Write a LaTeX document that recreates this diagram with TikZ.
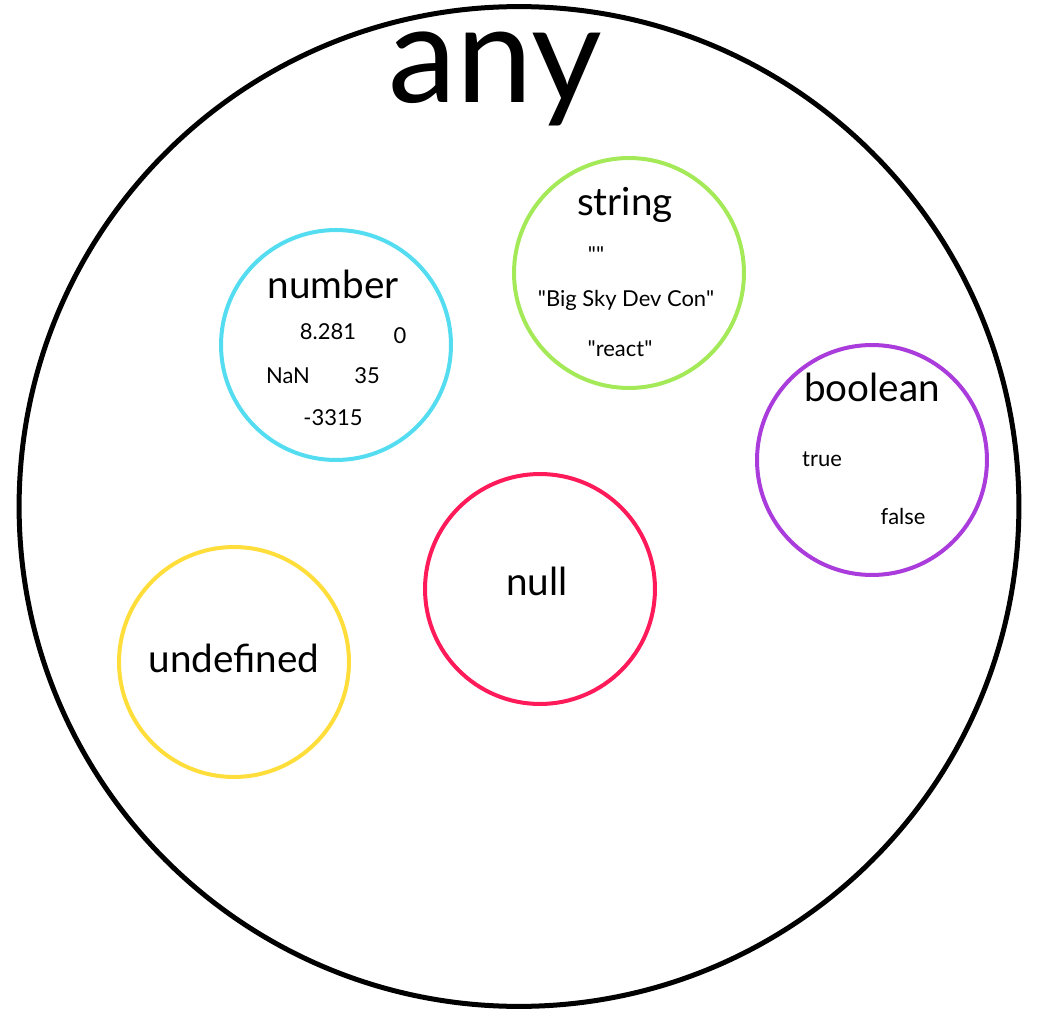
\documentclass[tikz,border=0pt]{standalone}
\usepackage{fontspec}
\setmainfont{Lato}
\newfontfamily\latoplain{Lato}
\usetikzlibrary{positioning}
\definecolor{numcyan}{RGB}{84,221,240}
\definecolor{strgreen}{RGB}{164,233,88}
\definecolor{boolpurple}{RGB}{170,60,220}
\definecolor{nullred}{RGB}{255,26,90}
\definecolor{undefyellow}{RGB}{255,222,60}

\tikzset{
  typering/.style={circle, draw=#1, line width=0.08cm, minimum size=4.6cm, inner sep=0pt},
  typename/.style={font=\latoplain\fontsize{22}{24}\selectfont, anchor=base},
  valname/.style={font=\latoplain\fontsize{12.5}{14}\selectfont, anchor=base},
}

\begin{document}
\begin{tikzpicture}[x=0.02cm, y=-0.02cm]
\useasboundingbox (0,0) rectangle (1046,1017);

% outer set
\node[circle, draw=black, line width=0.1cm, minimum size=20cm, inner sep=0pt] (anyring) at (519,506.5) {};
\node[font=\latoplain\fontsize{78}{80}\selectfont, anchor=base, inner sep=0pt] (any) at (495,103) {any};

% number
\node[typering=numcyan] (numring) at (336,345) {};
\node[typename] (number) at (333,298) {number};
\node[valname] (v8281) at (328,339) {8.281};
\node[valname] (vzero) at (400,343) {0};
\node[valname] (vnan) at (288,383) {NaN};
\node[valname] (v35) at (367,383) {35};
\node[valname] (vneg) at (333,425) {-3315};

% string
\node[typering=strgreen] (strring) at (629,273) {};
\node[typename] (string) at (625,215) {string};
\node[valname] (vempty) at (596,263) {""};
\node[valname] (vbigsky) at (626,307) {"Big Sky Dev Con"};
\node[valname] (vreact) at (620,357) {"react"};

% boolean
\node[typering=boolpurple] (boolring) at (872,460) {};
\node[typename] (boolean) at (872,401) {boolean};
\node[valname] (vtrue) at (822,466) {true};
\node[valname] (vfalse) at (903,524) {false};

% null
\node[typering=nullred] (nullring) at (540,589) {};
\node[typename] (null) at (537,595) {null};

% undefined
\node[typering=undefyellow] (undefring) at (234,662) {};
\node[typename] (undefined) at (234,672) {undefined};

\end{tikzpicture}
\end{document}
